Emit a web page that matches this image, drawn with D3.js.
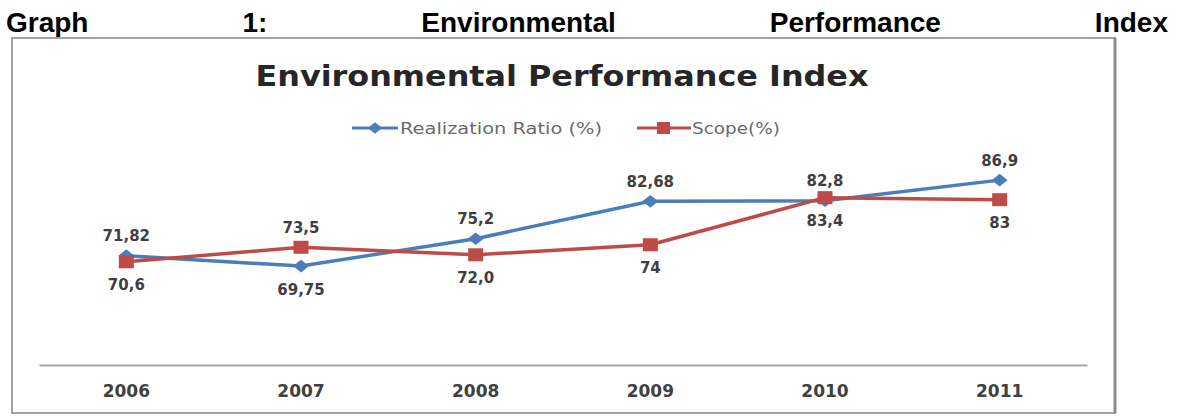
<!DOCTYPE html>
<html>
<head>
<meta charset="utf-8">
<script src="https://cdn.jsdelivr.net/npm/d3@7"></script>
<style>
	body { margin: 0; background: #fff; }
	svg { display: block; }
</style>
</head>
<body>
<div id="chart"></div>
<script>
'use strict';

// values
const years = ["2006", "2007", "2008", "2009", "2010", "2011"];
const realization = [71.82, 69.75, 75.2, 82.68, 82.8, 86.9];
const scope = [70.6, 73.5, 72.0, 74, 83.4, 83];
const realizationLabels = ["71,82", "69,75", "75,2", "82,68", "82,8", "86,9"];
const scopeLabels = ["70,6", "73,5", "72,0", "74", "83,4", "83"];
const headingWords = ["Graph", "1:", "Environmental", "Performance", "Index"];
const chartTitle = "Environmental Performance Index";
const seriesNames = ["Realization Ratio (%)", "Scope(%)"];

// label side for each point (layout only)
const realizationSide = ["up", "down", "up", "up", "up", "up"];
const scopeSide = ["down", "up", "down", "down", "down", "down"];

const W = 1182, H = 416;
const BLUE = "#4a7ebb", RED = "#be4b48";

const svg = d3.select("#chart")
	.append("svg")
		.attr("width", W)
		.attr("height", H);

// justified heading line above the chart box
const heading = svg.append("g")
	.style("font-family", "'Liberation Sans', Arial, sans-serif")
	.style("font-weight", "bold")
	.style("font-size", "28px")
	.attr("fill", "#000");

const words = heading.selectAll("text")
	.data(headingWords)
	.join("text")
		.attr("y", 32)
		.text(d => d);

{
	const left = 6, right = 1168;
	const widths = [];
	words.each(function () { widths.push(this.getComputedTextLength()); });
	const gap = (right - left - d3.sum(widths)) / (widths.length - 1);
	let x = left;
	words.attr("x", (d, i) => {
		const here = x;
		x += widths[i] + gap;
		return here;
	});
}

// chart box
svg.append("rect")
	.attr("x", 12)
	.attr("y", 38)
	.attr("width", 1103)
	.attr("height", 375)
	.attr("fill", "#fff")
	.attr("stroke", "#a3a3a3")
	.attr("stroke-width", 2);

svg.append("line")
	.attr("x1", 1115).attr("x2", 1115)
	.attr("y1", 38).attr("y2", 413)
	.attr("stroke", "#8c8c8c")
	.attr("stroke-width", 3);

// chart title
svg.append("text")
	.attr("x", 562)
	.attr("y", 86)
	.attr("text-anchor", "middle")
	.attr("textLength", 613)
	.attr("lengthAdjust", "spacingAndGlyphs")
	.style("font-family", "'DejaVu Sans', sans-serif")
	.style("font-weight", "bold")
	.style("font-size", "28px")
	.attr("fill", "#262626")
	.text(chartTitle);

// scales
const xScale = d3.scaleBand()
	.domain(years)
	.range([39, 1087])
	.padding(0);

const yScale = d3.scaleLinear()
	.domain([50, 100])
	.range([365, 114.5]);

const cx = (i) => xScale(years[i]) + xScale.bandwidth() / 2;

// x axis
const xAxisGenerator = d3.axisBottom(xScale)
	.tickSizeInner(0)
	.tickSizeOuter(0)
	.tickPadding(20);

const xAxis = svg.append("g")
	.attr("transform", `translate(0, ${yScale(50)})`)
	.call(xAxisGenerator);

xAxis.select(".domain")
	.attr("stroke", "#a6a6a6")
	.attr("stroke-width", 2);

xAxis.selectAll("text")
	.style("font-family", "'DejaVu Sans', sans-serif")
	.style("font-weight", "bold")
	.style("font-size", "17px")
	.attr("fill", "#404040");

// lines
const lineGenerator = d3.line()
	.x((d, i) => cx(i))
	.y(d => yScale(d));

const plot = svg.append("g");

plot.append("path")
	.datum(realization)
	.attr("d", lineGenerator)
	.attr("fill", "none")
	.attr("stroke", BLUE)
	.attr("stroke-width", 3.5)
	.attr("stroke-linejoin", "round");

plot.selectAll("rect.diamond")
	.data(realization)
	.join("rect")
		.attr("class", "diamond")
		.attr("x", -4.5)
		.attr("y", -4.5)
		.attr("width", 9)
		.attr("height", 9)
		.attr("fill", BLUE)
		.attr("transform", (d, i) => `translate(${cx(i)}, ${yScale(d)}) scale(1.25, 1) rotate(45)`);

plot.append("path")
	.datum(scope)
	.attr("d", lineGenerator)
	.attr("fill", "none")
	.attr("stroke", RED)
	.attr("stroke-width", 3.5)
	.attr("stroke-linejoin", "round");

plot.selectAll("rect.square")
	.data(scope)
	.join("rect")
		.attr("class", "square")
		.attr("x", (d, i) => cx(i) - 7.5)
		.attr("y", d => yScale(d) - 6.5)
		.attr("width", 15)
		.attr("height", 13)
		.attr("fill", RED);

// data labels
function addLabels(values, labels, side) {
	plot.append("g")
		.selectAll("text")
		.data(values)
		.join("text")
			.attr("x", (d, i) => cx(i))
			.attr("y", (d, i) => yScale(d) + (side[i] === "up" ? -19 : 24))
			.attr("text-anchor", "middle")
			.attr("dominant-baseline", "middle")
			.style("font-family", "'DejaVu Sans', sans-serif")
			.style("font-weight", "bold")
			.style("font-size", "15px")
			.attr("fill", "#3f3f3f")
			.text((d, i) => labels[i]);
}
addLabels(realization, realizationLabels, realizationSide);
addLabels(scope, scopeLabels, scopeSide);

// legend
const legend = svg.append("g")
	.attr("transform", "translate(0, 128)")
	.style("font-family", "'DejaVu Sans', sans-serif")
	.style("font-size", "16px");

const blueItem = legend.append("g").attr("transform", "translate(352, 0)");
blueItem.append("line")
	.attr("x1", 0).attr("x2", 46)
	.attr("stroke", BLUE).attr("stroke-width", 3);
blueItem.append("rect")
	.attr("x", -4).attr("y", -4).attr("width", 8).attr("height", 8)
	.attr("fill", BLUE)
	.attr("transform", "translate(23, 0) scale(1.25, 1) rotate(45)");
blueItem.append("text")
	.attr("x", 48).attr("y", 6)
	.attr("textLength", 202)
	.attr("lengthAdjust", "spacingAndGlyphs")
	.attr("fill", "#6a6a6a")
	.text(seriesNames[0]);

const redItem = legend.append("g").attr("transform", "translate(637, 0)");
redItem.append("line")
	.attr("x1", 0).attr("x2", 54)
	.attr("stroke", RED).attr("stroke-width", 3);
redItem.append("rect")
	.attr("x", 20).attr("y", -6).attr("width", 13).attr("height", 12)
	.attr("fill", RED);
redItem.append("text")
	.attr("x", 55).attr("y", 6)
	.attr("textLength", 88)
	.attr("lengthAdjust", "spacingAndGlyphs")
	.attr("fill", "#6a6a6a")
	.text(seriesNames[1]);
</script>
</body>
</html>
